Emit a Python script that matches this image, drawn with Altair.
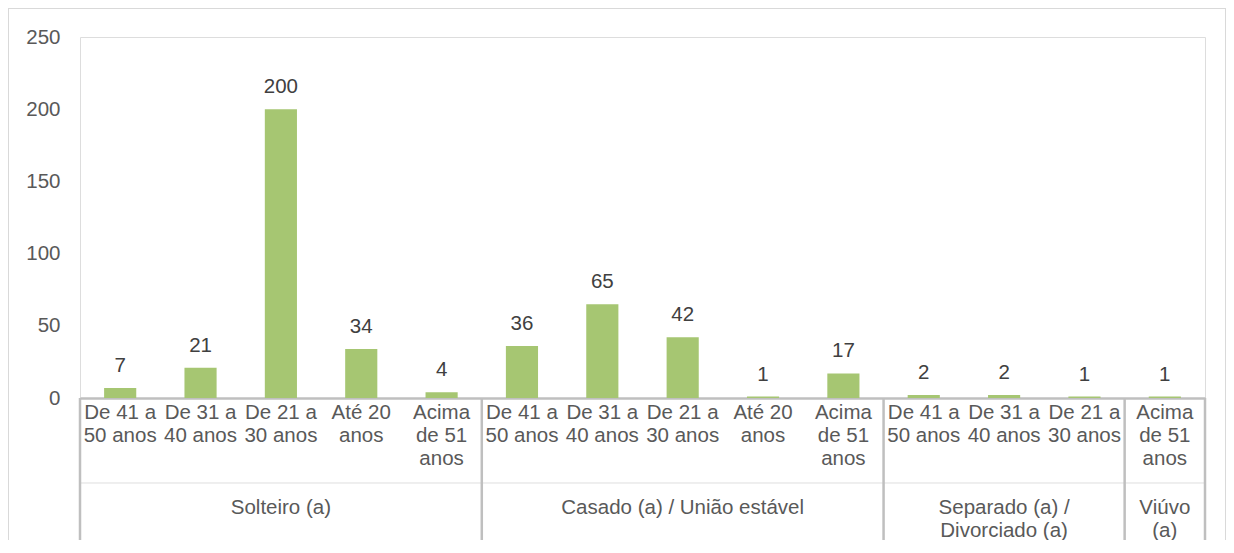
import altair as alt
import pandas as pd

# ---- data ----
groups = ["Solteiro (a)"] * 5 + ["Casado (a) / União estável"] * 5 + ["Separado (a) / Divorciado (a)"] * 3 + ["Viúvo (a)"]
ages = [
    "De 41 a\n50 anos", "De 31 a\n40 anos", "De 21 a\n30 anos", "Até 20\nanos", "Acima\nde 51\nanos",
    "De 41 a\n50 anos", "De 31 a\n40 anos", "De 21 a\n30 anos", "Até 20\nanos", "Acima\nde 51\nanos",
    "De 41 a\n50 anos", "De 31 a\n40 anos", "De 21 a\n30 anos",
    "Acima\nde 51\nanos",
]
values = [7, 21, 200, 34, 4, 36, 65, 42, 1, 17, 2, 2, 1, 1]

group_names = ["Solteiro (a)", "Casado (a) / União estável", "Separado (a) / Divorciado (a)", "Viúvo (a)"]
group_labels = ["Solteiro (a)", "Casado (a) / União estável", "Separado (a) /\nDivorciado (a)", "Viúvo\n(a)"]
y_ticks = [0, 50, 100, 150, 200, 250]

keys = [f"k{i:02d}" for i in range(len(values))]
df = pd.DataFrame({"key": keys, "group": groups, "age": ages, "value": values})

# group helpers built from the arrays above
g_first, g_mid, g_last = [], [], []
for g in group_names:
    idx = [i for i, gg in enumerate(groups) if gg == g]
    g_first.append(keys[idx[0]])
    g_mid.append(keys[idx[len(idx) // 2]])
    g_last.append(keys[idx[-1]])
gdf = pd.DataFrame({"key": g_mid, "label": group_labels})
starts = pd.DataFrame({"key": g_first})
ends = pd.DataFrame({"key": [g_last[-1]]})

W, H = 1125, 361
FONT = "Liberation Sans"
GRAY = "#BFBFBF"
FS = 20.5

xscale = alt.Scale(domain=keys, paddingInner=0, paddingOuter=0)
xenc = alt.X("key:N", scale=xscale, sort=keys,
             axis=alt.Axis(labels=False, ticks=False, title=None, domainColor=GRAY, domainWidth=2.5))
yscale = alt.Scale(domain=[0, 250], nice=False)

base = alt.Chart(df)

bars = base.mark_bar(width=alt.RelativeBandSize(0.4), color="#A6C672").encode(
    x=xenc,
    y=alt.Y("value:Q", scale=yscale,
            axis=alt.Axis(values=y_ticks, title=None, domain=False, ticks=False, grid=False,
                          labelFontSize=FS, labelColor="#595959", labelPadding=20, labelFont=FONT)),
)

vlabels = base.mark_text(baseline="middle", dy=-22, fontSize=FS, color="#404040", font=FONT).encode(
    x=alt.X("key:N", scale=xscale, sort=keys),
    y=alt.Y("value:Q", scale=yscale),
    text="value:Q",
)

age_text = base.mark_text(lineBreak="\n", baseline="middle", align="center", fontSize=FS,
                          lineHeight=23, color="#595959", font=FONT).encode(
    x=alt.X("key:N", scale=xscale, sort=keys),
    y=alt.value(H + 15),
    text="age:N",
)

grp_text = alt.Chart(gdf).mark_text(lineBreak="\n", baseline="middle", align="center", fontSize=FS,
                                    lineHeight=23, color="#595959", font=FONT).encode(
    x=alt.X("key:N", scale=xscale, sort=keys),
    y=alt.value(H + 110),
    text="label:N",
)

sep_start = alt.Chart(starts).mark_rule(color=GRAY, strokeWidth=2.5).encode(
    x=alt.X("key:N", scale=xscale, sort=keys, bandPosition=0),
    y=alt.value(H),
    y2=alt.value(H + 200),
)
sep_end = alt.Chart(ends).mark_rule(color=GRAY, strokeWidth=2.5).encode(
    x=alt.X("key:N", scale=xscale, sort=keys, bandPosition=1),
    y=alt.value(H),
    y2=alt.value(H + 200),
)

mid_line = alt.Chart(starts).mark_rule(color="#EDEDED", strokeWidth=1).encode(
    x=alt.value(0), x2=alt.value(W), y=alt.value(H + 85),
)

border = alt.Chart(starts).mark_rect(fill=None, stroke="#D9D9D9", strokeWidth=1).encode(
    x=alt.value(-71.5), x2=alt.value(W + 20.5), y=alt.value(-28.5), y2=alt.value(H + 200),
)

chart = alt.layer(border, mid_line, bars, vlabels, age_text, grp_text, sep_start, sep_end).properties(
    width=W, height=H,
    autosize=alt.AutoSizeParams(type="none"),
    padding={"left": 72, "top": 29, "right": 21, "bottom": 142},
).configure_view(stroke=None).configure(background="white")

chart.save("out.html", embed_options={"renderer": "svg", "actions": False})
